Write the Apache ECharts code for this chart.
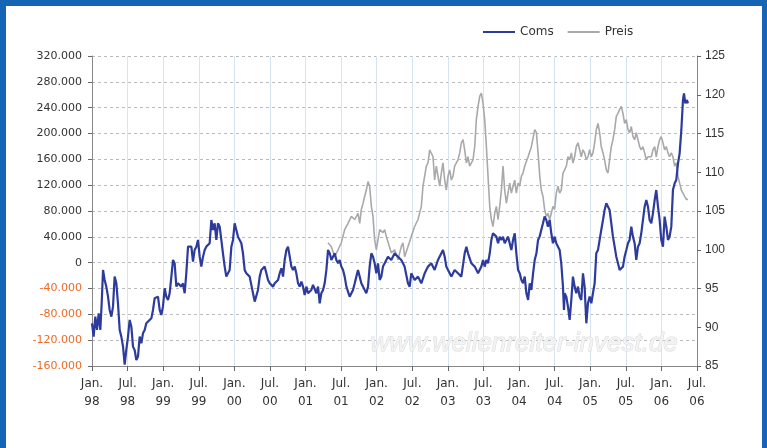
<!DOCTYPE html>
<html><head><meta charset="utf-8">
<script src="https://cdn.jsdelivr.net/npm/echarts/dist/echarts.min.js"></script>
<style>html,body{margin:0;padding:0;background:#fff}#c{width:767px;height:448px}</style>
</head><body><div id="c"></div>
<script>
// Coms (weekly-ish readings), x in decimal years
const comsYear = [
1998.000,1998.023,1998.047,1998.070,1998.094,1998.117,1998.136,1998.155,1998.178,1998.201,1998.225,1998.248,1998.272,1998.295,1998.318,1998.342,1998.365,1998.389,1998.412,1998.436,1998.459,1998.482,1998.506,1998.529,1998.553,1998.576,1998.599,1998.623,1998.646,1998.670,1998.693,1998.716,1998.740,1998.763,1998.787,1998.834,1998.857,1998.880,1998.927,1998.951,1998.974,1998.997,
1999.021,1999.044,1999.068,1999.091,1999.115,1999.138,1999.161,1999.185,1999.208,1999.232,1999.255,1999.278,1999.302,1999.325,1999.349,1999.372,1999.396,1999.419,1999.442,1999.466,1999.489,1999.513,1999.536,1999.560,1999.583,1999.606,1999.630,1999.653,1999.677,1999.700,1999.723,1999.747,1999.770,1999.794,1999.817,1999.840,1999.864,1999.887,1999.911,1999.934,1999.958,1999.981,
2000.004,2000.028,2000.051,2000.098,2000.121,2000.145,2000.168,2000.215,2000.262,2000.286,2000.309,2000.332,2000.356,2000.379,2000.426,2000.450,2000.473,2000.497,2000.520,2000.543,2000.567,2000.614,2000.637,2000.661,2000.684,2000.707,2000.731,2000.754,2000.778,2000.801,2000.824,2000.848,2000.871,2000.895,2000.918,2000.942,2000.965,2000.988,
2001.012,2001.035,2001.059,2001.082,2001.105,2001.129,2001.152,2001.176,2001.199,2001.222,2001.246,2001.269,2001.293,2001.316,2001.340,2001.363,2001.386,2001.410,2001.433,2001.457,2001.480,2001.503,2001.527,2001.550,2001.574,2001.597,2001.620,2001.644,2001.667,2001.691,2001.714,2001.737,2001.761,2001.784,2001.808,2001.831,2001.854,2001.878,2001.901,2001.925,2001.948,2001.971,2001.995,
2002.018,2002.042,2002.065,2002.088,2002.112,2002.135,2002.158,2002.205,2002.252,2002.299,2002.345,2002.392,2002.439,2002.463,2002.486,2002.533,2002.580,2002.627,2002.674,2002.721,2002.767,2002.814,2002.861,2002.908,2002.931,2002.955,2002.978,
2003.002,2003.049,2003.095,2003.142,2003.189,2003.236,2003.260,2003.283,2003.330,2003.377,2003.424,2003.470,2003.494,2003.517,2003.541,2003.564,2003.588,2003.611,2003.634,2003.658,2003.681,2003.705,2003.728,2003.752,2003.775,2003.798,2003.822,2003.845,2003.892,2003.916,2003.939,2003.962,2003.986,
2004.009,2004.033,2004.056,2004.080,2004.103,2004.127,2004.150,2004.173,2004.197,2004.220,2004.244,2004.267,2004.289,2004.336,2004.359,2004.383,2004.406,2004.430,2004.453,2004.476,2004.500,2004.523,2004.547,2004.570,2004.593,2004.617,2004.631,2004.640,2004.664,2004.687,2004.711,2004.734,2004.757,2004.781,2004.804,2004.828,2004.851,2004.874,2004.898,2004.921,2004.945,2004.968,2004.992,
2005.015,2005.038,2005.062,2005.085,2005.109,2005.132,2005.155,2005.179,2005.202,2005.226,2005.249,2005.272,2005.296,2005.319,2005.343,2005.366,2005.390,2005.413,2005.436,2005.460,2005.483,2005.507,2005.530,2005.553,2005.577,2005.600,2005.624,2005.647,2005.671,2005.694,2005.717,2005.741,2005.764,2005.788,2005.811,2005.834,2005.858,2005.881,2005.905,2005.928,2005.952,2005.975,2005.998,
2006.022,2006.045,2006.069,2006.092,2006.115,2006.139,2006.162,2006.186,2006.209,2006.233,2006.256,2006.280,2006.303,2006.317,2006.336,2006.359,2006.373
];
const comsVal = [
-94000,-114500,-83600,-104200,-78400,-104200,-62900,-11300,-26800,-37100,-52600,-73200,-83600,-68100,-21600,-32000,-62900,-104200,-114500,-130000,-158000,-135200,-114500,-88700,-99100,-130000,-135200,-150700,-145500,-114500,-124900,-109400,-104200,-93900,-91300,-86200,-73200,-55200,-52600,-73200,-81000,-68100,
-39700,-52600,-57800,-47400,-21600,4200,-1000,-37100,-32000,-32000,-37100,-32000,-47400,-16500,24800,22200,24800,1600,19700,24800,35200,9300,-6100,9300,19700,24800,22200,30000,66100,50600,61000,35200,61000,55800,35200,14500,-6100,-21600,-21600,-11300,24800,35200,
61000,58400,40300,30000,14500,-11300,-16500,-21600,-47400,-60300,-57800,-42300,-21600,-11300,-6100,-16500,-26800,-32000,-29400,-37100,-32000,-26800,-16500,-8700,-21600,4200,19700,24800,9300,-6100,-11300,-6100,-16500,-32000,-37100,-29400,-37100,-50000,
-37100,-47400,-50000,-42300,-34500,-37100,-47400,-37100,-62900,-47400,-42300,-32000,-11300,19700,14500,4200,9300,14500,4200,-1000,4200,-6100,-11300,-21600,-37100,-44900,-52600,-50000,-42300,-32000,-21600,-11300,-21600,-32000,-37100,-42300,-47400,-37100,-6100,14500,9300,-1000,-16500,
-1000,-26800,-21600,-6100,-1000,4200,9300,4200,14500,9300,4200,-6100,-32000,-37100,-16500,-26800,-21600,-32000,-16500,-6100,-1000,-11300,4200,14500,19700,9300,-6100,
-11300,-21600,-11300,-16500,-21600,14500,24800,14500,-1000,-6100,-16500,-6100,4200,-6100,4200,-1000,14500,35200,45500,48100,40300,30000,40300,35200,40300,30000,35200,40300,19700,35200,45500,14500,-11300,
-16500,-26800,-32000,-21600,-47400,-57800,-32000,-42300,-16500,4200,14500,35200,40300,61000,71300,66100,55800,66100,45500,30000,40300,30000,24800,19700,-1000,-37100,-73200,-47400,-52600,-68100,-88700,-57800,-21600,-37100,-47400,-37100,-52600,-57800,-16500,-37100,-93900,-62900,-52600,
-62900,-47400,-32000,14500,19700,35200,50600,66100,81600,91900,94500,81600,61000,40300,24800,9300,-1000,-11300,-13900,-6100,9300,19700,30000,35200,55800,40300,30000,4200,24800,30000,45500,66100,86700,97000,86700,66100,61000,76400,97000,112500,86700,66100,35200,
24800,71300,55800,35200,40300,55800,112500,122900,128000,153800,169300,205500,251900,262200,246700,251900,246700
];
// Preis
const preisYear = [
2001.316,2001.363,2001.410,2001.457,2001.503,2001.550,2001.597,2001.644,2001.691,2001.737,2001.761,2001.784,2001.808,2001.831,2001.854,2001.878,2001.901,2001.925,2001.948,2001.971,2001.995,
2002.018,2002.042,2002.065,2002.088,2002.112,2002.135,2002.158,2002.205,2002.252,2002.299,2002.345,2002.369,2002.392,2002.439,2002.486,2002.533,2002.580,2002.627,2002.650,2002.674,2002.697,2002.721,2002.744,2002.767,2002.791,2002.814,2002.838,2002.861,2002.885,2002.908,2002.931,2002.955,2002.978,
2003.002,2003.025,2003.049,2003.072,2003.095,2003.119,2003.142,2003.166,2003.189,2003.213,2003.236,2003.260,2003.283,2003.306,2003.330,2003.353,2003.377,2003.400,2003.424,2003.447,2003.470,2003.494,2003.517,2003.541,2003.564,2003.588,2003.611,2003.634,2003.658,2003.681,2003.705,2003.728,2003.752,2003.775,2003.798,2003.822,2003.845,2003.869,2003.892,2003.916,2003.939,2003.962,2003.986,
2004.009,2004.033,2004.056,2004.080,2004.127,2004.173,2004.220,2004.244,2004.267,2004.291,2004.312,2004.336,2004.359,2004.383,2004.406,2004.430,2004.453,2004.476,2004.500,2004.523,2004.547,2004.570,2004.593,2004.617,2004.640,2004.664,2004.687,2004.711,2004.734,2004.757,2004.781,2004.804,2004.828,2004.851,2004.874,2004.898,2004.921,2004.945,2004.968,2004.992,
2005.015,2005.038,2005.062,2005.085,2005.109,2005.132,2005.155,2005.179,2005.202,2005.226,2005.249,2005.272,2005.296,2005.319,2005.343,2005.366,2005.390,2005.413,2005.436,2005.460,2005.483,2005.507,2005.530,2005.553,2005.577,2005.600,2005.624,2005.647,2005.671,2005.694,2005.717,2005.741,2005.764,2005.788,2005.811,2005.834,2005.858,2005.881,2005.905,2005.928,2005.952,2005.975,2005.998,
2006.022,2006.045,2006.069,2006.092,2006.115,2006.139,2006.162,2006.186,2006.209,2006.233,2006.256,2006.280,2006.303,2006.326,2006.350,2006.373
];
const preisVal = [
100.9,100.4,99.1,100.0,100.9,102.6,103.4,104.3,103.9,104.7,103.4,105.2,106.0,106.9,107.7,108.8,108.2,105.6,104.3,101.3,100.0,
101.3,102.6,102.8,102.2,102.6,101.7,101.7,99.6,100.0,98.7,100.4,100.9,99.1,100.4,101.7,103.0,103.9,105.6,108.2,109.5,110.8,111.2,112.9,113.1,112.0,109.0,110.8,109.5,108.2,109.9,111.2,109.0,107.7,
109.5,110.3,109.0,109.5,110.8,111.2,111.6,112.5,113.8,114.2,112.9,111.2,112.0,110.8,111.2,111.6,113.3,116.8,118.5,119.8,120.2,118.9,116.8,113.3,109.5,105.6,103.9,103.0,104.7,105.6,103.9,105.6,107.7,110.8,107.7,106.0,107.3,108.6,107.3,108.2,109.0,107.3,108.6,
108.2,109.5,109.9,110.8,112.0,113.3,115.5,115.1,112.5,109.5,107.7,106.9,105.2,104.3,104.7,103.9,104.7,105.6,105.2,107.3,108.2,107.3,107.7,109.9,110.3,110.8,112.0,111.6,112.5,111.2,112.0,113.3,113.8,112.9,112.0,112.9,112.5,111.6,112.0,112.9,
112.0,112.5,113.8,115.5,116.3,115.1,113.3,112.5,111.6,110.3,109.9,111.6,113.3,114.2,115.5,117.2,117.6,118.1,118.5,117.6,116.3,116.8,115.5,115.1,115.9,114.6,114.2,115.1,114.2,113.3,112.9,113.3,112.5,111.6,112.0,111.8,112.0,112.9,113.3,112.0,113.3,114.2,114.6,
113.8,112.9,113.3,112.5,112.0,112.5,112.0,110.8,111.2,109.5,108.6,107.7,107.3,106.9,106.5,106.5
];
const xTickLabels = ['Jan.\n98','Jul.\n98','Jan.\n99','Jul.\n99','Jan.\n00','Jul.\n00','Jan.\n01','Jul.\n01','Jan.\n02','Jul.\n02','Jan.\n03','Jul.\n03','Jan.\n04','Jul.\n04','Jan.\n05','Jul.\n05','Jan.\n06','Jul.\n06'];

const chart = echarts.init(document.getElementById('c'), null, {renderer:'canvas'});
const FONT = 'DejaVu Sans';
function leftFmt(v){
  if (v === 0) return '{p|0}';
  const s = (v/1000).toFixed(0) + '.000';
  return v < 0 ? '{n|' + s + '}' : '{p|' + s + '}';
}
chart.setOption({
  backgroundColor:'#ffffff',
  animation:false,
  grid:{left:92, right:70, top:56, bottom:82},
  legend:{
    data:['Coms','Preis'], left:478, top:21, icon:'rect', itemWidth:32, itemHeight:2, itemGap:14,
    textStyle:{fontSize:12, color:'#333', fontFamily:FONT}
  },
  xAxis:{
    type:'value', min:1998, max:2006.5, interval:0.5,
    axisLine:{onZero:false, lineStyle:{color:'#888'}},
    axisTick:{length:5, lineStyle:{color:'#666'}},
    axisLabel:{formatter:v=>xTickLabels[Math.round((v-1998)*2)], color:'#333', fontSize:12, lineHeight:18, margin:9, fontFamily:FONT},
    splitLine:{show:true, lineStyle:{color:'#d7e4f2', width:1}}
  },
  yAxis:[{
    type:'value', min:-160000, max:320000, interval:40000, position:'left',
    axisLine:{show:true, lineStyle:{color:'#888'}},
    axisTick:{show:true, length:4, lineStyle:{color:'#666'}},
    axisLabel:{formatter:leftFmt, margin:10, rich:{
      p:{color:'#333', fontSize:11, fontFamily:FONT},
      n:{color:'#ee6a2a', fontSize:11, fontFamily:FONT}}},
    splitLine:{show:true, lineStyle:{color:'#bbbbbb', type:[3,3], width:1}}
  },{
    type:'value', min:85, max:125, interval:5, position:'right',
    axisLine:{show:true, lineStyle:{color:'#888'}},
    axisTick:{show:true, length:4, lineStyle:{color:'#666'}},
    axisLabel:{color:'#333', fontSize:12, margin:8, fontFamily:'Liberation Sans Narrow, Liberation Sans'},
    splitLine:{show:false}
  }],
  series:[{
    name:'Preis', type:'line', yAxisIndex:1, showSymbol:false, symbol:'none',
    data:preisYear.map((y,i)=>[y, preisVal[i]]),
    lineStyle:{color:'#a9a9a9', width:1.6}, itemStyle:{color:'#a9a9a9'}, z:2
  },{
    name:'Coms', type:'line', yAxisIndex:0, showSymbol:false, symbol:'none',
    data:comsYear.map((y,i)=>[y, comsVal[i]]),
    lineStyle:{color:'#2c3b9c', width:2.2}, itemStyle:{color:'#2c3b9c'}, z:3
  }],
  graphic:[
    {type:'rect', shape:{x:0,y:0,width:767,height:6}, style:{fill:'#1565b4'}, silent:true},
    {type:'rect', shape:{x:0,y:0,width:6,height:448}, style:{fill:'#1565b4'}, silent:true},
    {type:'rect', shape:{x:762,y:0,width:5,height:448}, style:{fill:'#1565b4'}, silent:true},
    {type:'text', left:370, top:330, z:1, silent:true,
      style:{text:'www.wellenreiter-invest.de', fontSize:26, fontStyle:'italic', fontFamily:'Liberation Sans',
        fill:'#f3f3f3', stroke:'#d9d9d9', lineWidth:1}}
  ]
});
</script>
</body></html>
